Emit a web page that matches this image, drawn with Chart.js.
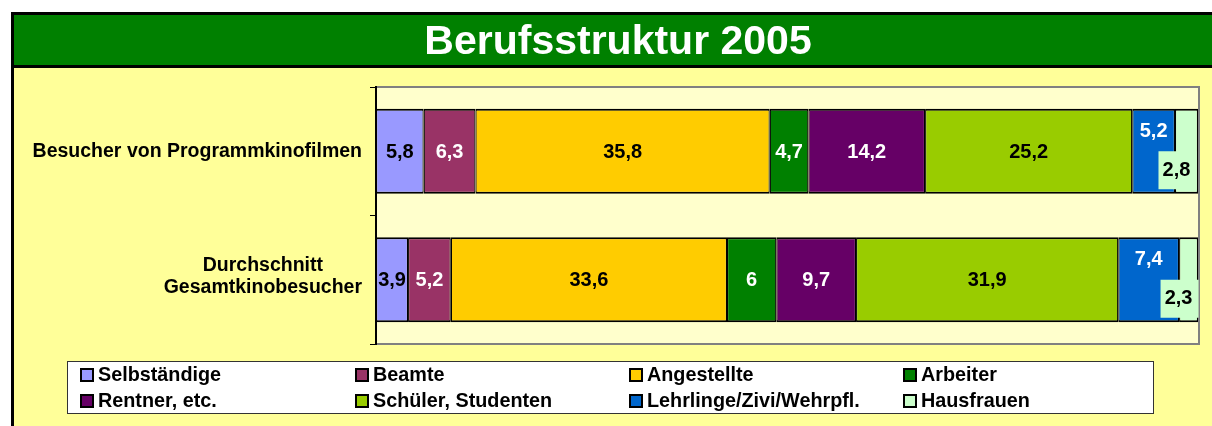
<!DOCTYPE html>
<html>
<head>
<meta charset="utf-8">
<script src="https://cdn.jsdelivr.net/npm/chart.js@4.4.0/dist/chart.umd.min.js"></script>
<style>
  html, body { margin: 0; padding: 0; background: #fff; }
  #wrap { width: 1212px; height: 426px; }
</style>
</head>
<body>
<div id="wrap"><canvas id="chart" width="1212" height="426"></canvas></div>
<script>
// Daten
const titel = 'Berufsstruktur 2005';
const kategorien = [['Besucher von Programmkinofilmen'], ['Durchschnitt', 'Gesamtkinobesucher']];
const berufe = ['Selbständige', 'Beamte', 'Angestellte', 'Arbeiter', 'Rentner, etc.', 'Schüler, Studenten', 'Lehrlinge/Zivi/Wehrpfl.', 'Hausfrauen'];
const programmkino = [5.8, 6.3, 35.8, 4.7, 14.2, 25.2, 5.2, 2.8];
const gesamtkino = [3.9, 5.2, 33.6, 6, 9.7, 31.9, 7.4, 2.3];

// Farben
const farben = ['#9999FF', '#993366', '#FFCC00', '#008000', '#660066', '#99CC00', '#0066CC', '#CCFFCC'];
const textFarben = ['#000', '#fff', '#000', '#fff', '#fff', '#000', '#fff', '#000'];

const FONT = '"Liberation Sans", Arial, sans-serif';
const fmt = v => String(v).replace('.', ',');

// Hintergrund, Rahmen, Titelband und Plotfläche
const hintergrund = {
  id: 'hintergrund',
  beforeDraw(chart) {
    const c = chart.ctx, a = chart.chartArea;
    c.save();
    c.fillStyle = '#fff';
    c.fillRect(0, 0, chart.width, chart.height);
    c.fillStyle = '#000';
    c.fillRect(11, 12, chart.width, chart.height);
    c.fillStyle = '#008000';
    c.fillRect(14, 15, chart.width, 50);
    c.fillStyle = '#FFFF99';
    c.fillRect(14, 68, chart.width, chart.height);
    // Plotfläche
    c.fillStyle = '#FFFFCC';
    c.fillRect(a.left, a.top, a.right - a.left, a.bottom - a.top);
    c.strokeStyle = '#808080';
    c.lineWidth = 2;
    c.strokeRect(a.left, a.top, a.right - a.left + 1, a.bottom - a.top);
    // Titel
    c.fillStyle = '#fff';
    c.font = 'bold 41px ' + FONT;
    c.textAlign = 'center';
    c.textBaseline = 'alphabetic';
    c.fillText(titel, 618, 54);
    c.restore();
  }
};

// Datenbeschriftungen, Kategorienamen und Legende
const beschriftung = {
  id: 'beschriftung',
  afterDatasetsDraw(chart) {
    const c = chart.ctx;
    c.save();
    c.font = 'bold 20px ' + FONT;
    c.textAlign = 'center';
    c.textBaseline = 'middle';
    chart.data.datasets.forEach((ds, i) => {
      chart.getDatasetMeta(i).data.forEach((bar, j) => {
        const p = bar.getCenterPoint();
        let x = p.x, y = p.y + 1;
        if (i === 6) y -= 21;
        if (i === 7) {
          x -= 10; y += 18;
          c.fillStyle = farben[i];
          c.fillRect(x - 18, y - 19, 38, 38);
        }
        c.fillStyle = textFarben[i];
        c.fillText(fmt(ds.data[j]), x, y);
      });
    });
    c.restore();
  },
  afterDraw(chart) {
    const c = chart.ctx, y = chart.scales.y;
    c.save();
    c.font = 'bold 19.5px ' + FONT;
    c.fillStyle = '#000';
    c.textAlign = 'center';
    c.textBaseline = 'middle';
    const rechts = chart.chartArea.left - 14;
    kategorien.forEach((zeilen, k) => {
      const breite = Math.max(...zeilen.map(z => c.measureText(z).width));
      const mitte = y.getPixelForValue(k) - (zeilen.length - 1) * 3;
      zeilen.forEach((z, n) => {
        c.fillText(z, rechts - breite / 2, mitte + (n - (zeilen.length - 1) / 2) * 22);
      });
    });

    // Legende (4 Spalten)
    c.fillStyle = '#fff';
    c.fillRect(67, 361, 1086, 52);
    c.strokeStyle = '#333';
    c.lineWidth = 1;
    c.strokeRect(67.5, 361.5, 1086, 52);
    c.font = 'bold 19.8px ' + FONT;
    c.textAlign = 'left';
    const spalten = [81, 356, 630, 904];
    berufe.forEach((b, i) => {
      const sx = spalten[i % 4];
      const sy = i < 4 ? 375 : 401;
      c.fillStyle = farben[i];
      c.fillRect(sx, sy - 6, 12, 12);
      c.strokeStyle = '#000';
      c.lineWidth = 2;
      c.strokeRect(sx, sy - 6, 12, 12);
      c.fillStyle = '#000';
      c.fillText(b, sx + 17, sy + 1);
    });
    c.restore();
  }
};

new Chart(document.getElementById('chart'), {
  type: 'bar',
  data: {
    labels: kategorien,
    datasets: berufe.map((b, i) => ({
      label: b,
      data: [programmkino[i], gesamtkino[i]],
      backgroundColor: farben[i],
      borderColor: '#000',
      borderWidth: { top: 2, bottom: 2, left: 1.2, right: 1.2 },
      borderSkipped: false,
      barPercentage: 0.66,
      categoryPercentage: 1
    }))
  },
  options: {
    indexAxis: 'y',
    responsive: false,
    animation: false,
    layout: { padding: { left: 356, right: 14, top: 87, bottom: 82 } },
    plugins: { legend: { display: false }, tooltip: { enabled: false }, title: { display: false } },
    scales: {
      x: { stacked: true, min: 0, max: 100, display: false },
      y: {
        stacked: true,
        grid: { drawOnChartArea: false, drawTicks: true, tickLength: 6, color: '#000', lineWidth: 1, offset: true },
        ticks: { display: false },
        border: { display: true, color: '#000', width: 2 },
        afterFit(s) { s.width = 20; }
      }
    }
  },
  plugins: [hintergrund, beschriftung]
});
</script>
</body>
</html>
